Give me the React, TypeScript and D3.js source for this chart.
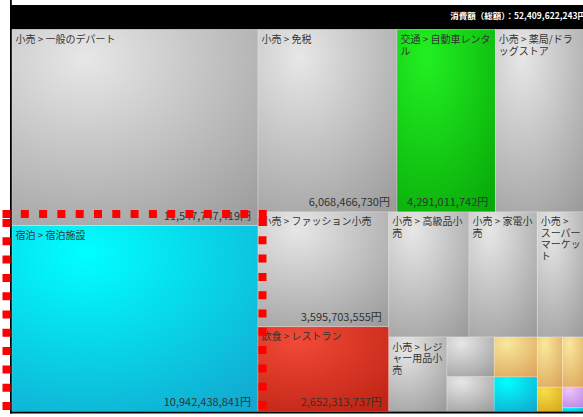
import React, { useMemo } from "react";
import * as d3 from "d3";

const W = 583;
const H = 417;

// ---- data ----
const names = [
  "小売 > 一般のデパート",
  "宿泊 > 宿泊施設",
  "小売 > 免税",
  "交通 > 自動車レンタル",
  "小売 > 薬局/ドラッグストア",
  "小売 > ファッション小売",
  "飲食 > レストラン",
  "小売 > 高級品小売",
  "小売 > 家電小売",
  "小売 > スーパーマーケット",
  "小売 > レジャー用品小売",
  "小売 > コンビニエンスストア",
  "小売 > 専門店",
  "娯楽 > テーマパーク",
  "宿泊 > その他宿泊",
  "娯楽 > 観光施設",
  "娯楽 > 文化施設",
  "娯楽 > スポーツ施設",
  "サービス > 美容",
  "宿泊 > 民泊",
];
const values = [
  11547747419, 10942438841, 6068466730, 4291011742, 3931540219, 3595703555,
  2652313737, 2398412604, 2041287310, 1438905126, 1036118472, 449860215,
  391274508, 411693027, 355918344, 300512873, 275806119, 147339552,
  110284661, 22987189,
];
const groups = [
  "retail", "lodging", "retail", "transport", "retail", "retail", "food",
  "retail", "retail", "retail", "retail", "retail", "retail", "leisure",
  "lodging", "leisure", "leisure", "sport", "beauty", "lodging",
];
const headerPrefix = "消費額（総額）：";

const palette: Record<string, [string, string]> = {
  retail: ["#e7e7e7", "#9c9c9c"],
  transport: ["#22f022", "#08a808"],
  lodging: ["#00ffff", "#12a8cf"],
  food: ["#f24a38", "#bd2212"],
  leisure: ["#f9e89c", "#dba45a"],
  sport: ["#f8de48", "#d8a61e"],
  beauty: ["#eec4f8", "#b884e4"],
};

const FONT = "'Noto Sans CJK JP', 'Noto Sans', sans-serif";
const NO_START = "ー、。）」";

let ctx: CanvasRenderingContext2D | null = null;
function measure(t: string, size: number) {
  if (!ctx) ctx = document.createElement("canvas").getContext("2d");
  if (!ctx) return t.length * size;
  ctx.font = `${size}px ${FONT}`;
  return ctx.measureText(t).width;
}

function wrap(text: string, maxW: number, size: number): string[] {
  const chars = Array.from(text);
  const lines: string[] = [];
  let line = "";
  for (const ch of chars) {
    const test = line + ch;
    if (measure(test.trimEnd(), size) > maxW && line.trim().length > 0) {
      if (NO_START.includes(ch) && line.length > 1) {
        const last = line[line.length - 1];
        lines.push(line.slice(0, -1));
        line = last + ch;
      } else {
        lines.push(line);
        line = ch === " " ? "" : ch;
      }
    } else line = test;
  }
  if (line) lines.push(line);
  return lines.map((l) => l.trimEnd());
}

export default function App() {
  const X0 = 12, Y0 = 29.5, X1 = 585.3, Y1 = 411.5;

  const leaves = useMemo(() => {
    const data = {
      name: "root",
      children: names.map((n, i) => ({ name: n, value: values[i], group: groups[i] })),
    };
    const root = d3.hierarchy<any>(data).sum((d: any) => d.value || 0);
    d3.treemap<any>().size([X1 - X0, Y1 - Y0]).tile(d3.treemapSquarify).paddingInner(0)(root);
    return root.leaves() as d3.HierarchyRectangularNode<any>[];
  }, []);

  const total = d3.sum(values);
  const fmt = d3.format(",");

  return (
    <svg
      width={W}
      height={H}
      style={{ position: "absolute", left: 0, top: 0, background: "#fff" }}
    >
      <defs>
        {Object.entries(palette).map(([k, [a, b]]) => (
          <radialGradient key={k} id={`g-${k}`} cx="30%" cy="15%" r="105%" fx="30%" fy="15%">
            <stop offset="0%" stopColor={a} />
            <stop offset="100%" stopColor={b} />
          </radialGradient>
        ))}
      </defs>
      <rect x={0} y={0} width={W} height={H} fill="#fff" />
      {/* header */}
      <rect x={10} y={5} width={W} height={24.5} fill="#000" />
      <text
        x={586}
        y={18.5}
        textAnchor="end"
        fill="#fff"
        fontSize={8.5}
        fontWeight="bold"
        fontFamily={FONT}
      >
        {headerPrefix + fmt(total) + "円"}
      </text>
      {/* cells */}
      <g transform={`translate(${X0},${Y0})`}>
        {leaves.map((d, i) => {
          const w = d.x1 - d.x0;
          const h = d.y1 - d.y0;
          return (
            <rect
              key={i}
              x={d.x0}
              y={d.y0}
              width={w}
              height={h}
              fill={`url(#g-${d.data.group})`}
              stroke="rgba(255,255,255,0.4)"
              strokeWidth={0.6}
            />
          );
        })}
        {leaves.map((d, i) => {
          const w = d.x1 - d.x0;
          const h = d.y1 - d.y0;
          const showName = w >= 45 && h >= 45;
          const showValue = w > 95 && h > 60;
          const lines = showName ? wrap(d.data.name, w - 7, 10) : [];
          return (
            <g key={i}>
              {showName && (
                <text
                  x={d.x0 + 3.5}
                  y={d.y0 + 13.5}
                  fontSize={10}
                  fontFamily={FONT}
                  fill="#333"
                >
                  {lines.map((l, j) => (
                    <tspan key={j} x={d.x0 + 3.5} dy={j === 0 ? 0 : 11.5}>
                      {l}
                    </tspan>
                  ))}
                </text>
              )}
              {showValue && (
                <text
                  x={d.x1 - 7}
                  y={d.y1 - 5.5}
                  textAnchor="end"
                  fontSize={11}
                  fontFamily={FONT}
                  fill="#333"
                >
                  {fmt(d.data.value) + "円"}
                </text>
              )}
            </g>
          );
        })}
      </g>
      {/* frame */}
      <rect x={10} y={0} width={1.8} height={413.5} fill="#000" />
      <rect x={10} y={411.5} width={W} height={2} fill="#000" />
      {/* red dashed highlight */}
      <g stroke="#ff0000" strokeWidth={8} strokeDasharray="8 10.3" fill="none">
        <line x1={2.5} y1={214} x2={270} y2={214} />
        <line x1={262.5} y1={218} x2={262.5} y2={430} />
        <line x1={6.5} y1={219} x2={6.5} y2={430} />
      </g>
    </svg>
  );
}
